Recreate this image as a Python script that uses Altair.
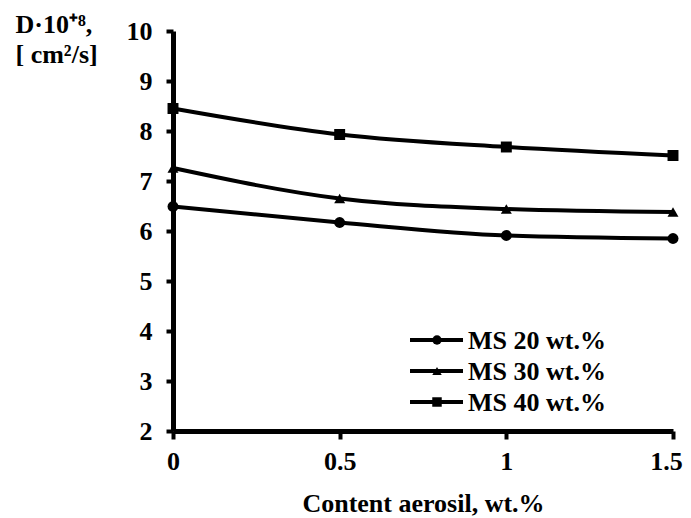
import altair as alt
import pandas as pd

x_vals = [0, 0.5, 1, 1.5]
series_names = ["MS 20 wt.%", "MS 30 wt.%", "MS 40 wt.%"]
ms20 = [6.49, 6.17, 5.91, 5.85]
ms30 = [7.26, 6.65, 6.44, 6.38]
ms40 = [8.45, 7.93, 7.68, 7.51]
shapes = ["circle", "triangle-up", "square"]

rows = []
for name, vals in zip(series_names, [ms20, ms30, ms40]):
    for xv, yv in zip(x_vals, vals):
        rows.append({"x": xv, "D": yv, "series": name})
df = pd.DataFrame(rows)
leg = pd.DataFrame({"series": series_names})

FONT = "Liberation Serif"
FS = 26
shape_scale = alt.Scale(domain=series_names, range=shapes)

xenc = alt.X("x:Q", scale=alt.Scale(domain=[0, 1.5], nice=False, zero=False),
             axis=alt.Axis(values=[0, 0.5, 1, 1.5], title="Content aerosil, wt.%",
                           labelExpr="datum.value", grid=False, tickSize=8, tickWidth=4,
                           domainWidth=5, domainColor="black", tickColor="black",
                           labelPadding=9, titlePadding=16, labelFlush=False,
                           labelOffset={"condition": {"test": "datum.value === 1.5", "value": -7}, "value": 0}))
yenc = alt.Y("D:Q", scale=alt.Scale(domain=[2, 10], nice=False, zero=False),
             axis=alt.Axis(values=list(range(2, 11)), title=["D·10⁺⁸,", "[ cm²/s]"],
                           titleAngle=0, titleAlign="left", titleBaseline="alphabetic",
                           titleX=-158, titleY=1, titleLineHeight=30,
                           grid=False, tickSize=7, tickWidth=4, domainWidth=5,
                           domainColor="black", tickColor="black", labelPadding=14))

lines = alt.Chart(df).mark_line(color="black", strokeWidth=4, interpolate="monotone").encode(
    x=xenc, y=yenc, detail="series:N")
pts = alt.Chart(df).mark_point(filled=True, color="black", opacity=1, size=120).encode(
    x="x:Q", y="D:Q", shape=alt.Shape("series:N", scale=shape_scale, legend=None))
main = alt.layer(lines, pts)

ly = alt.Y("series:N", scale=alt.Scale(type="point", domain=series_names, range=[309, 371], padding=0), axis=None)
leg_rule = alt.Chart(leg).mark_rule(color="black", strokeWidth=4).encode(
    x=alt.value(237), x2=alt.value(290), y=ly)
leg_pts = alt.Chart(leg).mark_point(filled=True, color="black", opacity=1, size=90).encode(
    x=alt.value(264), y=ly, shape=alt.Shape("series:N", scale=shape_scale, legend=None))
leg_txt = alt.Chart(leg).mark_text(align="left", baseline="middle", font=FONT, fontSize=FS,
                                   fontWeight="bold", color="black", dy=1).encode(
    x=alt.value(295), y=ly, text="series:N")
legend_layer = alt.layer(leg_rule, leg_pts, leg_txt)

chart = alt.layer(main, legend_layer).resolve_scale(y="independent").properties(
    width=500, height=400,
    autosize=alt.AutoSizeParams(type="none"),
    padding={"left": 165, "top": 23, "right": 10, "bottom": 86},
).configure_view(stroke=None
).configure_axis(
    labelFont=FONT, titleFont=FONT, labelFontSize=FS, titleFontSize=FS,
    labelFontWeight="bold", titleFontWeight="bold", labelColor="black", titleColor="black"
)

chart.save("out.html", embed_options={"renderer": "svg", "actions": False})
